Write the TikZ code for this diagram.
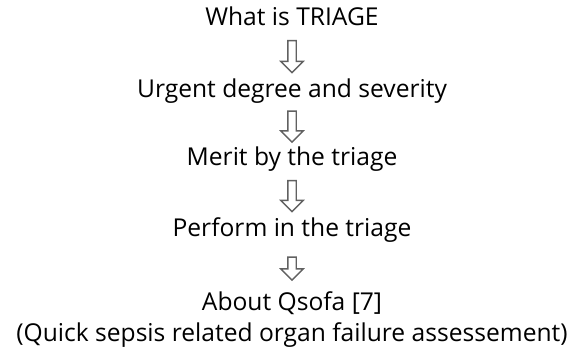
\documentclass[tikz,border=0pt]{standalone}
\usepackage{fontspec}
\setmainfont{Open Sans}
\usetikzlibrary{shapes.arrows}

\begin{document}
\begin{tikzpicture}
[x=1pt,y=1pt,every node/.style={inner sep=0pt,text height=18pt,text depth=5pt,anchor=base,font=\fontsize{24.6}{28}\selectfont},
 downarrow/.style={single arrow,draw=black!62,fill=white,line width=1.4pt,
   inner sep=3.5pt,single arrow head extend=7pt,single arrow head indent=0pt,
   shape border rotate=270,anchor=center,text height=,text depth=}]
\useasboundingbox (0,0) rectangle (581,-351);
\node (t1) at (292,-25) {What is TRIAGE};
\node (t2) at (292,-97) {Urgent degree and severity};
\node (t3) at (292,-165) {Merit by the triage};
\node (t4) at (292,-236) {Perform in the triage};
\node (t5) at (292,-310) {About Qsofa [7]};
\node (t6) at (292,-341) {(Quick sepsis related organ failure assessement)};
\foreach \from/\to/\len in {t1/t2/32pt,t2/t3/31pt,t3/t4/31pt,t4/t5/23pt}
\path (\from.south) -- (\to.north) node[midway,downarrow,minimum height=\len] {};
\end{tikzpicture}
\end{document}
